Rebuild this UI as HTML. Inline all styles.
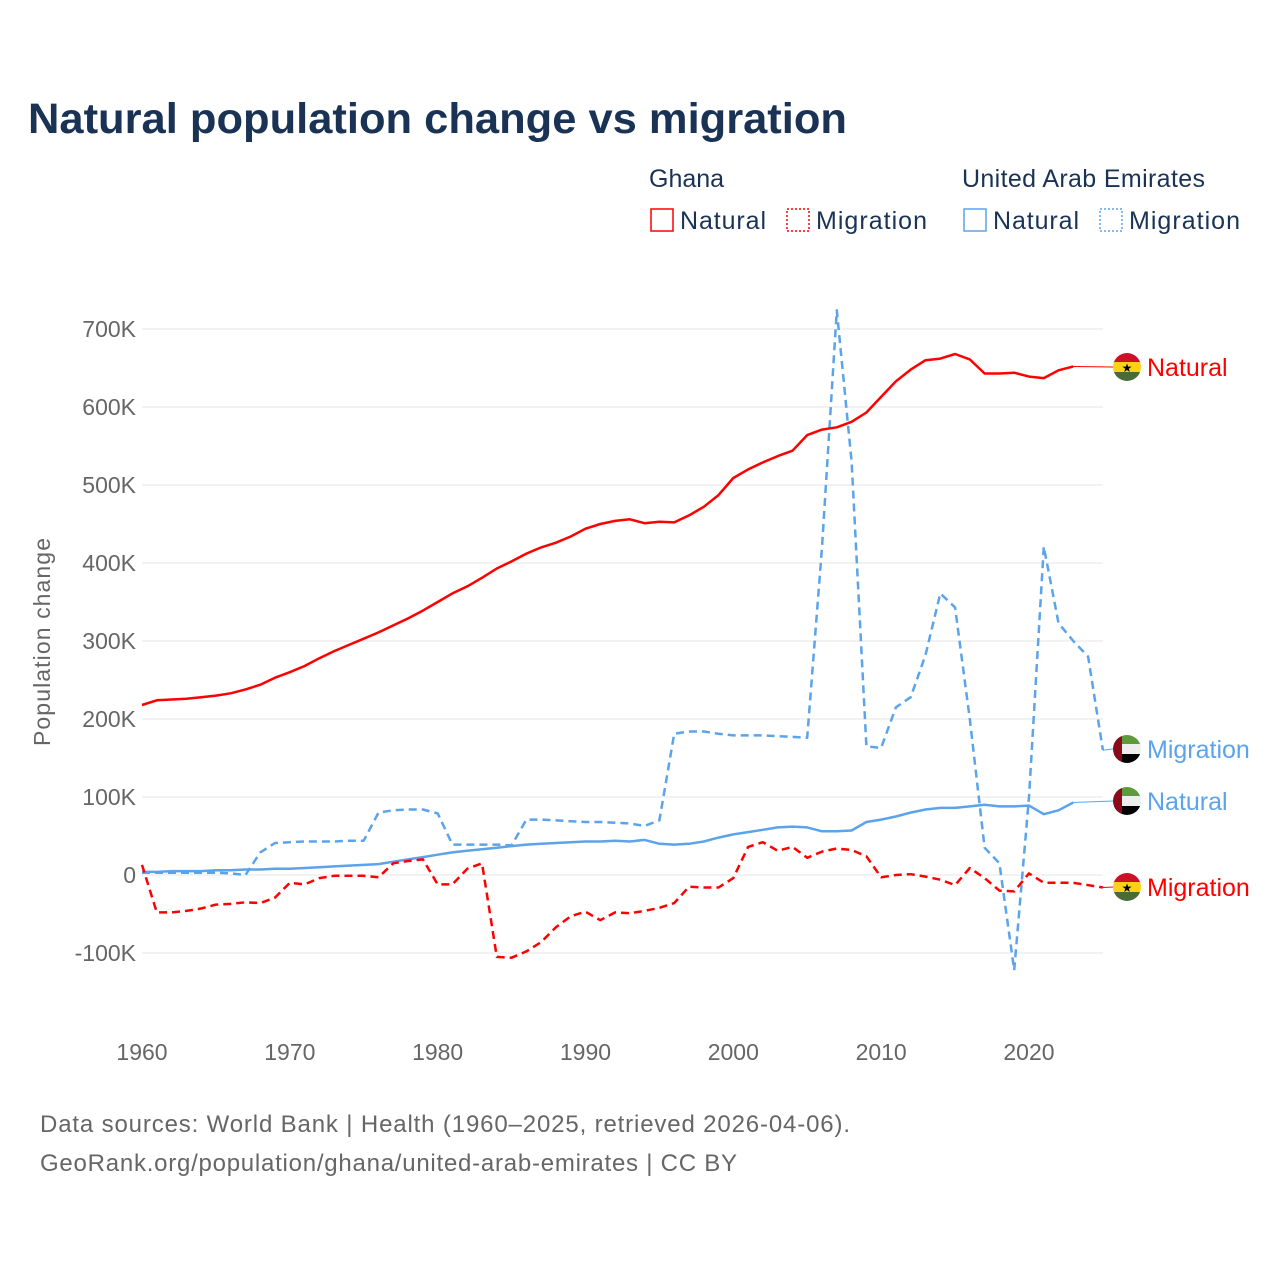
<!DOCTYPE html>
<html><head><meta charset="utf-8"><style>
body{margin:0;background:#fff;font-family:"Liberation Sans",sans-serif;}
svg text{font-family:"Liberation Sans",sans-serif;}
</style></head><body>
<svg id="chart" width="1280" height="1280">
<text x="28" y="133" font-size="43" font-weight="bold" fill="#1a3355" textLength="819" lengthAdjust="spacingAndGlyphs">Natural population change vs migration</text>
<g font-size="25" fill="#1a3355">
<text x="649" y="187" fill="#1a3355">Ghana</text>
<text x="962" y="187" fill="#1a3355" textLength="243">United Arab Emirates</text>
<g><rect x="651" y="209" width="22" height="22" fill="none" stroke="#f00" stroke-width="1.5"/><text x="680" y="229" fill="#1a3355" textLength="86">Natural</text></g>
<g><rect x="787" y="209" width="22" height="22" fill="none" stroke="#f00" stroke-width="1.5" stroke-dasharray="2,2"/><text x="816" y="229" fill="#1a3355" textLength="111">Migration</text></g>
<g><rect x="964" y="209" width="22" height="22" fill="none" stroke="#5ba3ea" stroke-width="1.5"/><text x="993" y="229" fill="#1a3355" textLength="86">Natural</text></g>
<g><rect x="1100" y="209" width="22" height="22" fill="none" stroke="#5ba3ea" stroke-width="1.5" stroke-dasharray="2,2"/><text x="1129" y="229" fill="#1a3355" textLength="111">Migration</text></g>
</g>
<text transform="translate(50,642) rotate(-90)" text-anchor="middle" font-size="23" fill="#666" textLength="208">Population change</text>
<g id="grid"></g><g id="series"></g><g id="labels"></g>
<text x="40" y="1132" font-size="24" fill="#666" textLength="810">Data sources: World Bank | Health (1960–2025, retrieved 2026-04-06).</text>
<text x="40" y="1171" font-size="24" fill="#666" textLength="697">GeoRank.org/population/ghana/united-arab-emirates | CC BY</text>
</svg>
<script>
const yTicks=[-100,0,100,200,300,400,500,600,700];
const yTickLabels=["-100K","0","100K","200K","300K","400K","500K","600K","700K"];
const xTicks=[1960,1970,1980,1990,2000,2010,2020];
const startYear=1960;
const ghanaNatural=[218,224,225,226,228,230,233,238,244,253,260,268,278,287,295,303,311,320,329,339,350,361,370,381,393,402,412,420,426,434,444,450,454,456,451,453,452,461,472,487,509,520,529,537,544,564,571,574,581,593,613,633,648,660,662,668,661,643,643,644,639,637,647,652];
const ghanaMigration=[13,-48,-48,-46,-43,-38,-37,-35,-36,-29,-10,-12,-4,-1,-1,-1,-3,15,18,20,-12,-12,8,15,-105,-106,-98,-86,-67,-53,-47,-58,-48,-49,-46,-42,-36,-15,-16,-16,-4,36,42,31,36,22,30,34,32,24,-3,0,1,-2,-6,-13,9,-4,-20,-21,2,-10,-10,-10,-13,-16];
const uaeNatural=[4,4,5,5,5,6,6,7,7,8,8,9,10,11,12,13,14,17,20,23,26,29,31,33,35,37,39,40,41,42,43,43,44,43,45,40,39,40,43,48,52,55,58,61,62,61,56,56,57,68,71,75,80,84,86,86,88,90,88,88,89,78,83,93];
const uaeMigration=[3,3,3,3,3,3,2,0,29,41,42,43,43,43,44,44,80,83,84,84,79,39,39,39,39,38,71,71,70,69,68,68,67,66,63,70,181,184,184,181,179,179,179,178,177,176,420,724,530,165,163,215,228,282,361,343,200,35,15,-122,100,421,323,300,280,160];
const X=yr=>142+(yr-1960)*14.783;
const Y=v=>875-v*0.78;
const NS='http://www.w3.org/2000/svg';
function mk(tag,attrs,parent){const e=document.createElementNS(NS,tag);for(const k in attrs)e.setAttribute(k,attrs[k]);parent.appendChild(e);return e;}
const grid=document.getElementById('grid');
yTicks.forEach((t,i)=>{
 const l=mk('line',{x1:142,x2:1103,y1:Y(t),y2:Y(t),stroke:'#e6e6e6','stroke-width':1},grid);
 
 
 const tx=mk('text',{x:136,y:Y(t)+8,'text-anchor':'end','font-size':23,fill:'#666'},grid);
 tx.textContent=yTickLabels[i];
 
 
});
xTicks.forEach(t=>{
 const tx=mk('text',{x:X(t),y:1060,'text-anchor':'middle','font-size':23,fill:'#666'},grid);
 tx.textContent=t;
 
 
});
const ser=document.getElementById('series');
function line(data,color,dash,name){
 const d=data.map((v,i)=>(i?'L':'M')+X(startYear+i).toFixed(1)+','+Y(v).toFixed(1)).join('');
 const p=mk('path',{d:d,fill:'none',stroke:color,'stroke-width':2.5,'stroke-dasharray':dash,'stroke-linejoin':'round'},ser);
 
 
}
line(uaeMigration,'#5ba3ea','8,5','uae-migration-line');
line(uaeNatural,'#5ba3ea','none','uae-natural-line');
line(ghanaMigration,'#f00','8,5','ghana-migration-line');
line(ghanaNatural,'#f00','none','ghana-natural-line');
const lab=document.getElementById('labels');
function endLabel(data,color,flag,text,ly,name){
 const lastI=data.length-1,v=data[lastI];
 const c=mk('line',{x1:X(startYear+lastI),y1:Y(v),x2:1113,y2:ly,stroke:color,'stroke-width':1},lab);
 
 
 const g=mk('g',{},lab);
 
 
 const cx=1127;
 const cp='clip'+name;
 const cl=mk('clipPath',{id:cp},g);mk('circle',{cx:cx,cy:ly,r:14},cl);
 const gg=mk('g',{'clip-path':'url(#'+cp+')'},g);
 if(flag==='gh'){
  mk('rect',{x:cx-14,y:ly-14,width:28,height:10,fill:'#ce1126'},gg);
  mk('rect',{x:cx-14,y:ly-5,width:28,height:10,fill:'#fcd116'},gg);
  mk('rect',{x:cx-14,y:ly+5,width:28,height:10,fill:'#4a6b35'},gg);
  const s=mk('text',{x:cx,y:ly+5,'text-anchor':'middle','font-size':12,fill:'#000'},gg);s.textContent='★';
 }else{
  mk('rect',{x:cx-14,y:ly-14,width:28,height:10,fill:'#5d9a3a'},gg);
  mk('rect',{x:cx-14,y:ly-5,width:28,height:10,fill:'#eee'},gg);
  mk('rect',{x:cx-14,y:ly+5,width:28,height:10,fill:'#000'},gg);
  mk('rect',{x:cx-14,y:ly-14,width:9,height:28,fill:'#8b0a1a'},gg);
 }
 const t=mk('text',{x:1147,y:ly+9,'font-size':25,fill:color},lab);
 t.textContent=text;
 
 
}
endLabel(ghanaNatural,'#f00','gh','Natural',367,'ghana-natural-end');
endLabel(uaeMigration,'#5ba3ea','ae','Migration',749,'uae-migration-end');
endLabel(uaeNatural,'#5ba3ea','ae','Natural',801,'uae-natural-end');
endLabel(ghanaMigration,'#f00','gh','Migration',887,'ghana-migration-end');
</script>
</body></html>
